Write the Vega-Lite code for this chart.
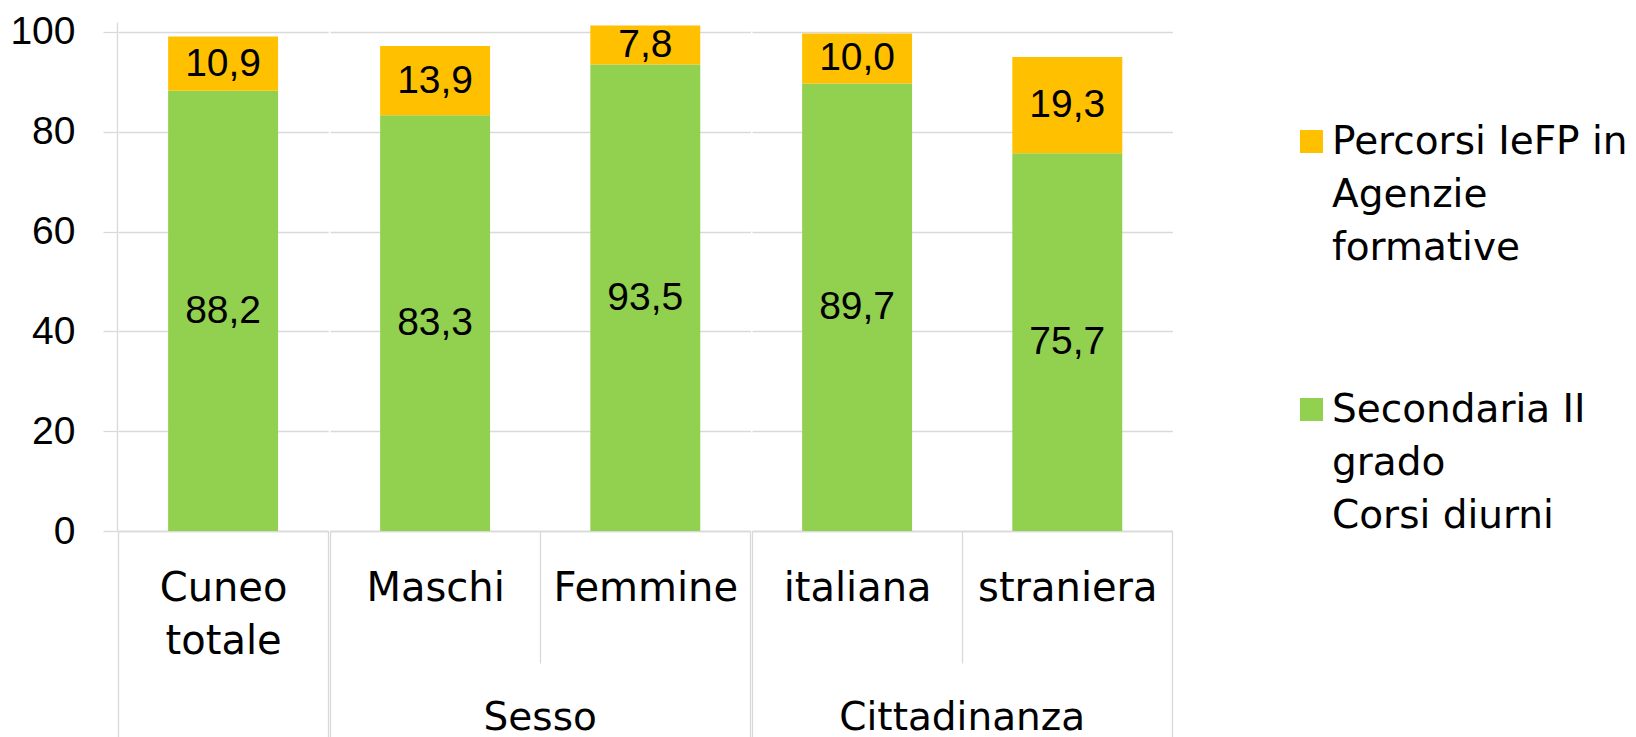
{
  "$schema": "https://vega.github.io/schema/vega-lite/v6.json",
  "padding": {"left": 9, "top": 12, "right": 0, "bottom": 0},
  "config": {
    "locale": {"number": {"decimal": ",", "thousands": ".", "grouping": [3], "currency": ["€", ""]}},
    "view": {"stroke": null},
    "style": {"guide-label": {"lineHeight": 53}},
    "font": "DejaVu Sans"
  },
  "data": {
    "values": [
      {"group": "Totale", "cat": "Cuneo totale", "series": "Secondaria II grado Corsi diurni", "value": 88.2},
      {"group": "Totale", "cat": "Cuneo totale", "series": "Percorsi IeFP in Agenzie formative", "value": 10.9},
      {"group": "Sesso", "cat": "Maschi", "series": "Secondaria II grado Corsi diurni", "value": 83.3},
      {"group": "Sesso", "cat": "Maschi", "series": "Percorsi IeFP in Agenzie formative", "value": 13.9},
      {"group": "Sesso", "cat": "Femmine", "series": "Secondaria II grado Corsi diurni", "value": 93.5},
      {"group": "Sesso", "cat": "Femmine", "series": "Percorsi IeFP in Agenzie formative", "value": 7.8},
      {"group": "Cittadinanza", "cat": "italiana", "series": "Secondaria II grado Corsi diurni", "value": 89.7},
      {"group": "Cittadinanza", "cat": "italiana", "series": "Percorsi IeFP in Agenzie formative", "value": 10.0},
      {"group": "Cittadinanza", "cat": "straniera", "series": "Secondaria II grado Corsi diurni", "value": 75.7},
      {"group": "Cittadinanza", "cat": "straniera", "series": "Percorsi IeFP in Agenzie formative", "value": 19.3}
    ]
  },
  "facet": {
    "column": {
      "field": "group",
      "type": "nominal",
      "sort": ["Totale", "Sesso", "Cittadinanza"],
      "header": {
        "title": null,
        "labelOrient": "bottom",
        "labelExpr": "datum.value == 'Totale' ? '' : datum.value",
        "labelFont": "DejaVu Sans",
        "labelFontSize": 39,
        "labelColor": "black",
        "labelPadding": -40
      }
    }
  },
  "spacing": 0,
  "resolve": {"scale": {"x": "independent"}},
  "spec": {
    "width": {"step": 210.2},
    "height": 509,
    "encoding": {
      "x": {
        "field": "cat",
        "type": "nominal",
        "sort": null,
        "scale": {"paddingInner": 0, "paddingOuter": 0},
        "axis": {
          "title": null,
          "tickBand": "extent",
          "tickSize": 207,
          "tickColor": "#d9d9d9",
          "tickWidth": 1.3,
          "tickDash": {"condition": {"test": "datum.value == 'Maschi' || datum.value == 'italiana'", "value": [132, 300]}, "value": []},
          "domainColor": "#d9d9d9",
          "domainWidth": 1.3,
          "labelFont": "DejaVu Sans",
          "labelFontSize": 40,
          "labelColor": "black",
          "labelLineHeight": 53,
          "labelPadding": -170,
          "labelLimit": 400,
          "labelAngle": 0,
          "labelExpr": "datum.value == 'Cuneo totale' ? ['Cuneo', 'totale'] : datum.value"
        }
      }
    },
    "layer": [
      {
        "mark": {"type": "bar", "width": {"band": 0.523}},
        "encoding": {
          "y": {
            "field": "value",
            "type": "quantitative",
            "stack": "zero",
            "scale": {"domain": [0, 102], "nice": false},
            "axis": {
              "title": null,
              "values": [0, 20, 40, 60, 80, 100],
              "grid": true,
              "gridColor": "#d9d9d9",
              "gridWidth": 1.3,
              "tickColor": "#d9d9d9",
              "tickSize": 14,
              "tickWidth": 1.3,
              "domainColor": "#d9d9d9",
              "domainWidth": 1.3,
              "labelFont": "Liberation Sans",
              "labelFontSize": 39,
              "labelColor": "black",
              "labelPadding": 28
            }
          },
          "color": {
            "field": "series",
            "type": "nominal",
            "scale": {"domain": ["Percorsi IeFP in Agenzie formative", "Secondaria II grado Corsi diurni"], "range": ["#ffc000", "#92d050"]},
            "legend": {
              "orient": "none",
              "legendX": 1174,
              "legendY": 100,
              "title": null,
              "padding": 0,
              "symbolType": "square",
              "symbolSize": 529,
              "symbolStrokeWidth": 0,
              "labelFont": "DejaVu Sans",
              "labelFontSize": 39,
              "labelColor": "black",
              "labelLimit": 500,
              "labelOffset": 1,
              "labelBaseline": "middle",
              "rowPadding": 122,
              "labelExpr": "datum.label == 'Percorsi IeFP in Agenzie formative' ? ['Percorsi IeFP in', 'Agenzie', 'formative'] : ['Secondaria II', 'grado', 'Corsi diurni']"
            }
          },
          "order": {"field": "series", "sort": "descending"}
        }
      },
      {
        "mark": {"type": "text", "font": "Liberation Sans", "fontSize": 39, "color": "black"},
        "encoding": {
          "y": {"field": "value", "type": "quantitative", "stack": "zero", "bandPosition": 0.5},
          "detail": {"field": "series"},
          "order": {"field": "series", "sort": "descending"},
          "text": {"field": "value", "type": "quantitative", "format": ".1f"}
        }
      }
    ]
  }
}
